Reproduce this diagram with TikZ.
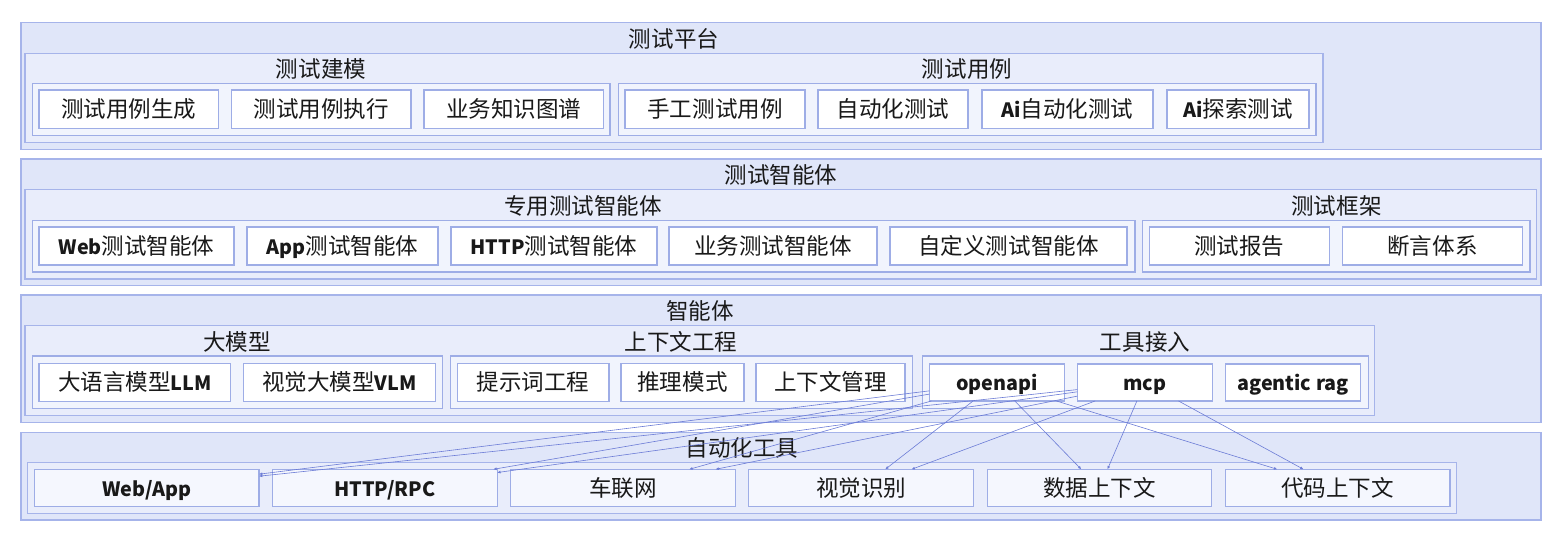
\documentclass[tikz,border=0pt]{standalone}
\usepackage{fontspec}
\setmainfont{Noto Sans CJK SC}
\usetikzlibrary{arrows.meta}
\definecolor{lay}{RGB}{224,230,249}
\definecolor{laybd}{RGB}{166,180,234}
\definecolor{sec}{RGB}{233,237,251}
\definecolor{grp}{RGB}{241,244,253}
\definecolor{itmf}{RGB}{255,255,255}
\definecolor{itmfb}{RGB}{245,247,254}
\definecolor{bd}{RGB}{158,173,230}
\definecolor{edgec}{RGB}{108,124,214}
\definecolor{txt}{RGB}{25,25,25}
\newcommand\bx[7]{\node[#1, minimum width={(#5-#3)*0.75pt}, minimum height={(#6-#4)*0.75pt}] (#2) at ({(#3+#5)/2},{(#4+#6)/2}) {#7};}
\newcommand\lb[1]{{\fontsize{14.8pt}{18pt}\selectfont\bfseries #1}}
\tikzset{
  base/.style={inner sep=0pt, outer sep=0pt, text=txt, font=\fontsize{16.9pt}{20pt}\selectfont, text height=14pt, text depth=1.4pt},
  layerbox/.style={base, draw=laybd, fill=lay, line width=0.9pt},
  secbox/.style={base, draw=laybd, fill=sec, line width=0.8pt},
  grpbox/.style={base, draw=bd, fill=grp, line width=0.8pt},
  itembox/.style={base, draw=bd, fill=itmf, line width=0.8pt},
  itemboxb/.style={base, draw=bd, fill=itmfb, line width=0.8pt},
  titletext/.style={base},
  edge/.style={draw=edgec, line width=0.45pt, -{Latex[length=2.5pt,width=2.2pt]}}
}
\begin{document}
\begin{tikzpicture}[x=0.75pt,y=-0.75pt]
\useasboundingbox (0,0) rectangle (1560,537);
% ---------- layer 1
\bx{layerbox}{L1}{21}{22.7}{1541}{149.3}{}
\bx{secbox}{S1}{25}{53.3}{1323}{142.5}{}
\bx{grpbox}{G11}{32.5}{83.3}{610}{135.8}{}
\bx{grpbox}{G12}{618.7}{83.3}{1316}{135.8}{}
\bx{itembox}{i11}{39}{90}{218.5}{128.7}{测试用例生成}
\bx{itembox}{i12}{231.5}{90}{411}{128.7}{测试用例执行}
\bx{itembox}{i13}{424}{90}{603.6}{128.7}{业务知识图谱}
\bx{itembox}{i14}{625}{90}{805}{128.7}{手工测试用例}
\bx{itembox}{i15}{818}{90}{968}{128.7}{自动化测试}
\bx{itembox}{i16}{982}{90}{1153}{128.7}{\lb{Ai}自动化测试}
\bx{itembox}{i17}{1167}{90}{1309}{128.7}{\lb{Ai}探索测试}
\node[titletext] (t1) at (674,39) {测试平台};
\node[titletext] (t11) at (321,69.5) {测试建模};
\node[titletext] (t12) at (967,69.5) {测试用例};
% ---------- layer 2
\bx{layerbox}{L2}{21}{159}{1541}{285.7}{}
\bx{secbox}{S2}{25}{189.3}{1536.7}{279}{}
\bx{grpbox}{G21}{32.3}{220.5}{1135}{272}{}
\bx{grpbox}{G22}{1142.7}{220.5}{1530}{272}{}
\bx{itembox}{i21}{39}{227}{234}{265}{\lb{Web}测试智能体}
\bx{itembox}{i22}{247}{227}{438}{265}{\lb{App}测试智能体}
\bx{itembox}{i23}{451}{227}{657}{265}{\lb{HTTP}测试智能体}
\bx{itembox}{i24}{669}{227}{877}{265}{业务测试智能体}
\bx{itembox}{i25}{890}{227}{1127}{265}{自定义测试智能体}
\bx{itembox}{i26}{1149.3}{227}{1329.3}{265}{测试报告}
\bx{itembox}{i27}{1342.3}{227}{1522.7}{265}{断言体系}
\node[titletext] (t2) at (781,175.5) {测试智能体};
\node[titletext] (t21) at (583,206) {专用测试智能体};
\node[titletext] (t22) at (1336.5,206) {测试框架};
% ---------- layer 3
\bx{layerbox}{L3}{21}{295}{1541}{422.3}{}
\bx{secbox}{S3}{25}{325.7}{1374.3}{415.5}{}
\bx{grpbox}{G31}{32.3}{356}{442.3}{408.3}{}
\bx{grpbox}{G32}{450.7}{356}{912.5}{408.3}{}
\bx{grpbox}{G33}{922.3}{356}{1368.3}{408.3}{}
\bx{itembox}{i31}{39}{363.3}{230.7}{401.7}{大语言模型\lb{LLM}}
\bx{itembox}{i32}{243.3}{363.3}{435.7}{401.7}{视觉大模型\lb{VLM}}
\bx{itembox}{i33}{457.3}{363.3}{609}{401.7}{提示词工程}
\bx{itembox}{i34}{621}{363.3}{744}{401.7}{推理模式}
\bx{itembox}{i35}{756}{363.3}{905}{401.7}{上下文管理}
\bx{itembox}{openapi}{929.3}{364}{1064.3}{401}{\lb{openapi}}
\bx{itembox}{mcp}{1077.3}{364}{1212.3}{401}{\lb{mcp}}
\bx{itembox}{rag}{1225.3}{364}{1360.7}{401}{\lb{agentic rag}}
\node[titletext] (t3) at (700,311.5) {智能体};
\node[titletext] (t31) at (237,342) {大模型};
\node[titletext] (t32) at (681,342) {上下文工程};
\node[titletext] (t33) at (1145,342) {工具接入};
% ---------- layer 4
\bx{layerbox}{L4}{21}{432.3}{1541}{520}{}
\bx{secbox}{S4}{27.7}{462.3}{1456.7}{513.3}{}
\bx{itemboxb}{w1}{34.3}{469.3}{259}{506.7}{\lb{Web/App}}
\bx{itemboxb}{w2}{272.5}{469.3}{497.2}{506.7}{\lb{HTTP/RPC}}
\bx{itemboxb}{w3}{510.7}{469.3}{735.4}{506.7}{车联网}
\bx{itemboxb}{w4}{748.9}{469.3}{973.6}{506.7}{视觉识别}
\bx{itemboxb}{w5}{987.1}{469.3}{1211.8}{506.7}{数据上下文}
\bx{itemboxb}{w6}{1225.3}{469.3}{1450}{506.7}{代码上下文}
\node[titletext] (t4) at (742,448) {自动化工具};
% ---------- edges
\foreach \s in {openapi,mcp}{
  \foreach \t in {w1,w2,w3,w4,w5,w6}{
    \draw[edge] (\s) -- (\t);
  }
}
\end{tikzpicture}
\end{document}
